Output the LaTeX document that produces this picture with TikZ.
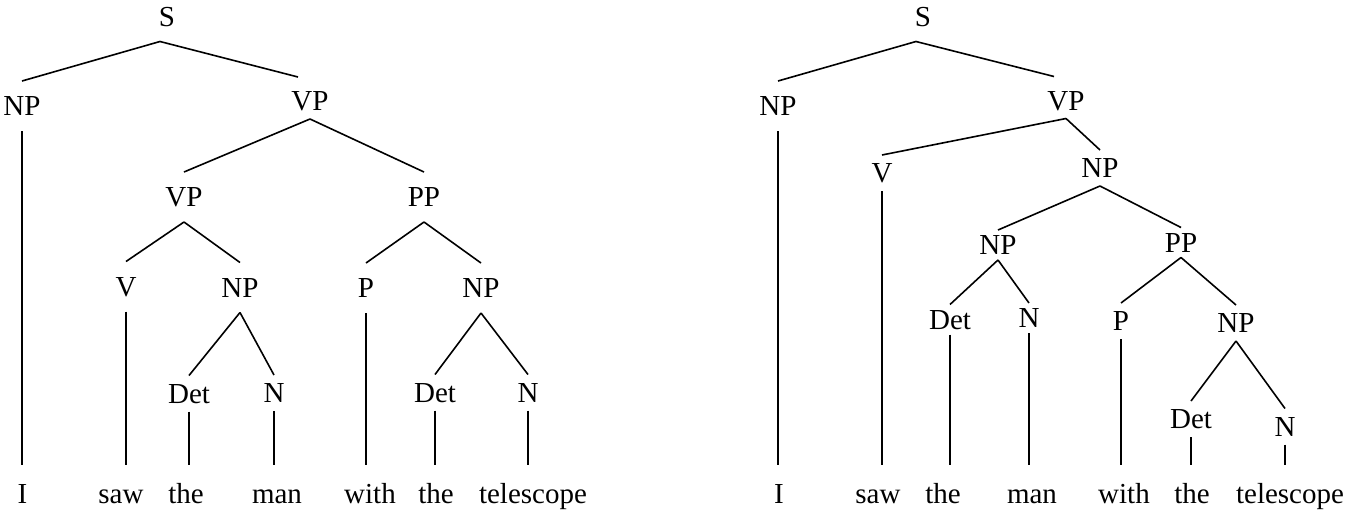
\documentclass[tikz,border=0pt]{standalone}
\usepackage{fontspec}
\setmainfont{Liberation Serif}
\begin{document}
\begin{tikzpicture}
			[x=0.5pt,y=-0.5pt,
			every node/.style={font=\fontsize{14.5}{17}\selectfont,text height=9.6pt,text depth=0pt,inner xsep=0pt,inner ysep=7.5pt},
			close/.style={inner ysep=4pt},
			closer/.style={inner ysep=2.5pt},
			word/.style={inner ysep=9.5pt}]
			\useasboundingbox (0,0) rectangle (1351,515);
			% left tree: PP attached to VP
			\node (S) at (167,16.5) {S};
			\node (NP) at (22,106) {NP};
			\node[close] (VP) at (310,101) {VP};
			\node (VPv) at (184,197) {VP};
			\node (PP) at (424,197) {PP};
			\node (V) at (126,286.5) {V};
			\node (NPo) at (240,287.5) {NP};
			\node (P) at (366,288) {P};
			\node (NPp) at (481,288) {NP};
			\node[close] (Det) at (189,393.5) {Det};
			\node[close] (N) at (274,393) {N};
			\node[close] (Detp) at (435,392.5) {Det};
			\node[close] (Np) at (528,392.5) {N};
			\node[word] (I) at (22.5,493.5) {I};
			\node[word] (saw) at (121,493.5) {saw};
			\node[word] (the) at (186,493.5) {the};
			\node[word] (man) at (277,493.5) {man};
			\node[word] (with) at (370,493.5) {with};
			\node[word] (thep) at (436,493.5) {the};
			\node[word] (tel) at (533,493.5) {telescope};
			\path[draw,thick]
			([xshift=-3.5pt]S.south) edge (NP.north)
			([xshift=-3.5pt]S.south) edge ([xshift=-6pt,yshift=3pt]VP.north)
			(VP.south) edge (VPv.north)
			(VP.south) edge (PP.north)
			(VPv.south) edge (V.north)
			(VPv.south) edge (NPo.north)
			(NPo.south) edge (Det.north)
			(NPo.south) edge (N.north)
			(PP.south) edge (P.north)
			(PP.south) edge (NPp.north)
			(NPp.south) edge (Detp.north)
			(NPp.south) edge (Np.north)
			(NP.south) edge (NP.south |- I.north)
			(V.south) edge (V.south |- saw.north)
			(Det.south) edge (Det.south |- the.north)
			(N.south) edge (N.south |- man.north)
			(P.south) edge (P.south |- with.north)
			(Detp.south) edge (Detp.south |- thep.north)
			(Np.south) edge (Np.south |- tel.north);
			% right tree: PP attached to NP
			\node (rS) at (923,16.5) {S};
			\node (rNP) at (778,106) {NP};
			\node[close] (rVP) at (1066,100.5) {VP};
			\node[close] (rV) at (882,173) {V};
			\node[close] (rNPo) at (1100,168) {NP};
			\node[closer] (rNPi) at (998,245) {NP};
			\node[closer] (rPP) at (1181,242.5) {PP};
			\node[closer] (rDet) at (950,319.5) {Det};
			\node[closer] (rN) at (1029,318) {N};
			\node[close] (rP) at (1121,321) {P};
			\node[close] (rNPp) at (1236,323) {NP};
			\node[close] (rDetp) at (1191,419) {Det};
			\node[close] (rNp) at (1285,426.5) {N};
			\node[word] (rI) at (779,493.5) {I};
			\node[word] (rsaw) at (878,493.5) {saw};
			\node[word] (rthe) at (943,493.5) {the};
			\node[word] (rman) at (1032,493.5) {man};
			\node[word] (rwith) at (1124,493.5) {with};
			\node[word] (rthep) at (1192,493.5) {the};
			\node[word] (rtel) at (1290,493.5) {telescope};
			\path[draw,thick]
			([xshift=-3.5pt]rS.south) edge (rNP.north)
			([xshift=-3.5pt]rS.south) edge ([xshift=-6pt,yshift=3pt]rVP.north)
			(rVP.south) edge (rV.north)
			(rVP.south) edge (rNPo.north)
			(rNPo.south) edge (rNPi.north)
			(rNPo.south) edge (rPP.north)
			(rNPi.south) edge (rDet.north)
			(rNPi.south) edge (rN.north)
			(rPP.south) edge (rP.north)
			(rPP.south) edge (rNPp.north)
			(rNPp.south) edge (rDetp.north)
			(rNPp.south) edge (rNp.north)
			(rNP.south) edge (rNP.south |- rI.north)
			(rV.south) edge (rV.south |- rsaw.north)
			(rDet.south) edge (rDet.south |- rthe.north)
			(rN.south) edge (rN.south |- rman.north)
			(rP.south) edge (rP.south |- rwith.north)
			(rDetp.south) edge (rDetp.south |- rthep.north)
			(rNp.south) edge (rNp.south |- rtel.north);
		\end{tikzpicture}
\end{document}
